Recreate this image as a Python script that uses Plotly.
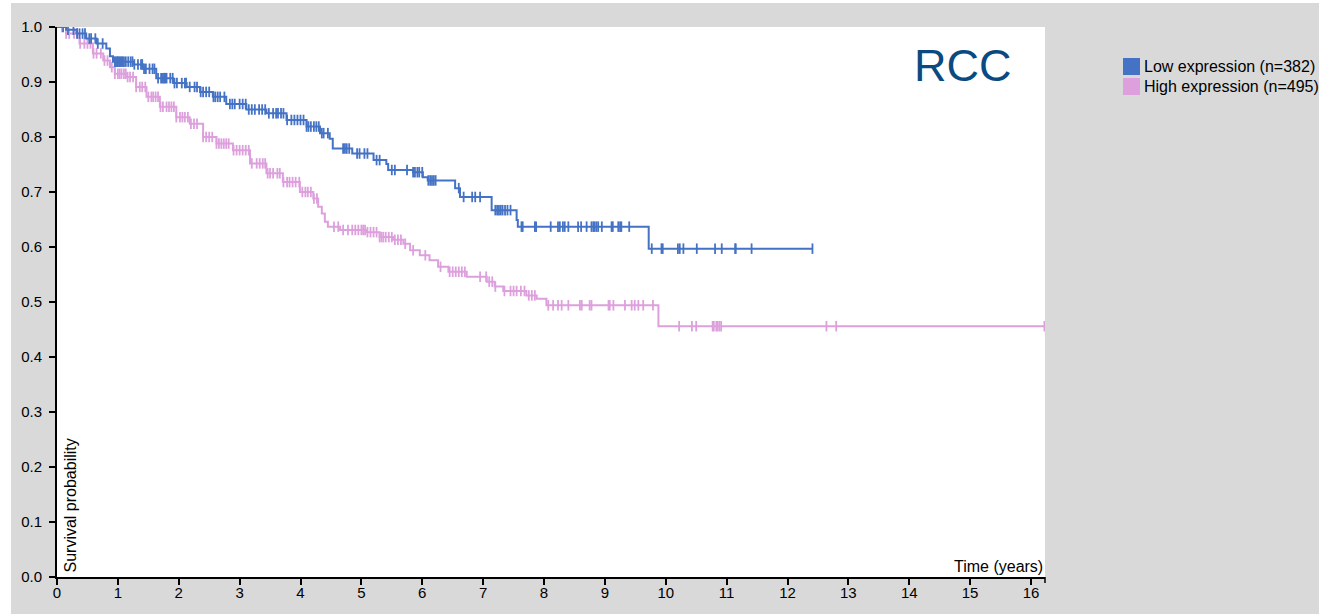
import numpy as np
import plotly.graph_objects as go

# ---------------- data ----------------
low_label = "Low expression (n=382)"
high_label = "High expression (n=495)"

low_step_t = [0, 0.15, 0.32, 0.48, 0.65, 0.81, 0.87, 0.92, 1.25, 1.41, 1.63, 1.91, 2.13, 2.35,
              2.56, 2.78, 3.11, 3.44, 3.77, 4.10, 4.32, 4.48, 4.53, 4.85, 5.20, 5.41, 5.44, 5.85,
              6.01, 6.09, 6.54, 6.62, 7.14, 7.55, 7.57, 9.72, 12.41]
low_step_s = [1.0, 0.995, 0.988, 0.979, 0.970, 0.961, 0.947, 0.937, 0.932, 0.924, 0.907, 0.898,
              0.891, 0.882, 0.873, 0.860, 0.850, 0.843, 0.831, 0.819, 0.807, 0.797, 0.779, 0.770,
              0.758, 0.751, 0.740, 0.736, 0.727, 0.721, 0.707, 0.691, 0.667, 0.649, 0.637, 0.597,
              0.597]

high_step_t = [0, 0.15, 0.37, 0.59, 0.76, 0.87, 0.95, 1.14, 1.30, 1.47, 1.69, 1.96, 2.18, 2.40,
               2.62, 2.89, 3.17, 3.44, 3.71, 3.99, 4.21, 4.29, 4.35, 4.40, 4.45, 4.65, 5.08, 5.30,
               5.52, 5.69, 5.80, 5.96, 6.12, 6.26, 6.43, 6.73, 7.06, 7.19, 7.33, 7.71, 7.88, 8.04,
               9.88, 16.22]
high_step_s = [1.0, 0.988, 0.970, 0.952, 0.939, 0.927, 0.915, 0.909, 0.891, 0.873, 0.855, 0.836,
               0.824, 0.800, 0.788, 0.776, 0.752, 0.734, 0.718, 0.700, 0.688, 0.673, 0.661, 0.646,
               0.637, 0.631, 0.627, 0.618, 0.613, 0.606, 0.594, 0.585, 0.576, 0.564, 0.555, 0.546,
               0.537, 0.528, 0.520, 0.512, 0.506, 0.494, 0.456, 0.456]

low_censor_t = [0.10, 0.18, 0.27, 0.33, 0.37, 0.42, 0.46, 0.53, 0.56, 0.63, 0.67, 0.75, 0.95, 0.97,
                0.99, 1.00, 1.02, 1.04, 1.06, 1.08, 1.10, 1.13, 1.17, 1.21, 1.24, 1.27, 1.33, 1.38,
                1.40, 1.43, 1.46, 1.52, 1.57, 1.60, 1.66, 1.71, 1.74, 1.76, 1.78, 1.80, 1.86, 1.90,
                1.93, 1.97, 2.05, 2.10, 2.12, 2.18, 2.26, 2.30, 2.36, 2.40, 2.45, 2.50, 2.57, 2.60,
                2.64, 2.68, 2.75, 2.84, 2.88, 2.92, 3.00, 3.05, 3.10, 3.15, 3.20, 3.25, 3.32, 3.37,
                3.42, 3.48, 3.55, 3.60, 3.63, 3.68, 3.72, 3.78, 3.85, 3.90, 3.95, 4.00, 4.05, 4.10,
                4.13, 4.17, 4.22, 4.26, 4.30, 4.35, 4.38, 4.45, 4.70, 4.73, 4.76, 4.80, 4.93, 4.97,
                5.05, 5.10, 5.25, 5.30, 5.50, 5.55, 5.75, 5.85, 5.88, 5.92, 5.95, 6.00, 6.10, 6.13,
                6.16, 6.19, 6.22, 6.60, 6.68, 6.82, 6.87, 6.95, 7.20, 7.23, 7.26, 7.29, 7.32, 7.36,
                7.40, 7.45, 7.63, 7.65, 7.85, 7.87, 8.11, 8.23, 8.26, 8.31, 8.34, 8.40, 8.56, 8.61,
                8.70, 8.78, 8.81, 8.83, 8.86, 8.89, 8.95, 9.11, 9.13, 9.22, 9.25, 9.27, 9.40, 9.77,
                9.93, 9.95, 10.20, 10.23, 10.29, 10.51, 10.81, 10.92, 11.14, 11.15, 11.41, 12.41]

high_censor_t = [0.08, 0.15, 0.20, 0.28, 0.33, 0.38, 0.45, 0.50, 0.55, 0.60, 0.65, 0.72, 0.78,
                 0.83, 0.90, 0.95, 1.00, 1.03, 1.06, 1.10, 1.13, 1.16, 1.20, 1.25, 1.30, 1.36,
                 1.40, 1.45, 1.50, 1.55, 1.58, 1.62, 1.66, 1.70, 1.74, 1.80, 1.84, 1.88, 1.92,
                 1.96, 2.02, 2.06, 2.10, 2.15, 2.20, 2.25, 2.30, 2.40, 2.45, 2.50, 2.55, 2.62,
                 2.66, 2.70, 2.74, 2.78, 2.82, 2.90, 2.95, 3.00, 3.05, 3.10, 3.15, 3.20, 3.28,
                 3.33, 3.38, 3.42, 3.46, 3.50, 3.55, 3.62, 3.66, 3.72, 3.78, 3.82, 3.87, 3.92,
                 3.98, 4.03, 4.08, 4.12, 4.17, 4.22, 4.27, 4.55, 4.62, 4.70, 4.78, 4.85, 4.90,
                 4.95, 5.00, 5.03, 5.06, 5.10, 5.15, 5.20, 5.25, 5.30, 5.33, 5.36, 5.40, 5.45,
                 5.50, 5.55, 5.60, 5.65, 5.72, 5.85, 6.05, 6.30, 6.45, 6.50, 6.55, 6.60, 6.65,
                 6.70, 6.95, 7.05, 7.10, 7.15, 7.20, 7.35, 7.45, 7.50, 7.55, 7.62, 7.68, 7.75,
                 7.80, 7.85, 8.07, 8.15, 8.23, 8.29, 8.40, 8.59, 8.62, 8.75, 8.78, 9.06, 9.08,
                 9.14, 9.33, 9.44, 9.49, 9.55, 9.63, 9.79, 10.22, 10.43, 10.50, 10.77, 10.79,
                 10.83, 10.85, 10.88, 10.91, 12.64, 12.80, 16.22]

y_ticks = [0.0, 0.1, 0.2, 0.3, 0.4, 0.5, 0.6, 0.7, 0.8, 0.9, 1.0]
x_ticks = list(range(0, 17))
title_text = "RCC"

# ---------------- styling / geometry ----------------
LOW_COLOR = "#4472c4"
HIGH_COLOR = "#dda0dd"
BG_GRAY = "#d9d9d9"
FONT = "Liberation Sans, Arial, Helvetica, sans-serif"

FIG_W, FIG_H = 1319, 614
ML, MR, MT, MB = 57, 274, 27, 37
PW = FIG_W - ML - MR
PH = FIG_H - MT - MB


def pxx(px):
    return (px - ML) / PW


def pxy(py):
    return (FIG_H - MB - py) / PH


def surv_at(step_t, step_s, times):
    idx = np.searchsorted(np.asarray(step_t), np.asarray(times), side="right") - 1
    idx = np.clip(idx, 0, len(step_s) - 1)
    return np.asarray(step_s)[idx]


fig = go.Figure()

for st, ss, ct, col in [(high_step_t, high_step_s, high_censor_t, HIGH_COLOR),
                        (low_step_t, low_step_s, low_censor_t, LOW_COLOR)]:
    fig.add_trace(go.Scatter(x=st, y=ss, mode="lines", line=dict(color=col, width=2, shape="hv"),
                             showlegend=False, hoverinfo="skip"))
    fig.add_trace(go.Scatter(x=ct, y=surv_at(st, ss, ct), mode="markers",
                             marker=dict(symbol="line-ns", size=7.5,
                                         line=dict(color=col, width=1.8)),
                             showlegend=False, hoverinfo="skip"))

shapes = [
    # white screenshot margins
    dict(type="rect", xref="paper", yref="paper", x0=pxx(-2), x1=pxx(11), y0=pxy(FIG_H + 2),
         y1=pxy(-2), fillcolor="white", line=dict(width=0), layer="below"),
    dict(type="rect", xref="paper", yref="paper", x0=pxx(-2), x1=pxx(FIG_W + 2), y0=pxy(3),
         y1=pxy(-2), fillcolor="white", line=dict(width=0), layer="below"),
    # outer tick at x-axis end
    dict(type="line", xref="paper", yref="paper", x0=1, x1=1, y0=0, y1=-6 / PH,
         line=dict(color="black", width=1.5)),
    # legend swatches
    dict(type="rect", xref="paper", yref="paper", x0=pxx(1123), x1=pxx(1140), y0=pxy(75),
         y1=pxy(58), fillcolor=LOW_COLOR, line=dict(width=0)),
    dict(type="rect", xref="paper", yref="paper", x0=pxx(1123), x1=pxx(1140), y0=pxy(95),
         y1=pxy(78), fillcolor=HIGH_COLOR, line=dict(width=0)),
]

annotations = [
    dict(text=title_text, xref="paper", yref="paper", x=pxx(963), y=pxy(65), xanchor="center",
         yanchor="middle", showarrow=False, font=dict(size=45, color="#0b4a80", family=FONT)),
    dict(text="Survival probability", xref="paper", yref="paper", x=0, y=0, xanchor="left",
         yanchor="bottom", xshift=2, yshift=2, textangle=-90, showarrow=False,
         font=dict(size=16, color="black", family=FONT)),
    dict(text="Time (years)", xref="paper", yref="paper", x=1, y=0, xanchor="right",
         yanchor="bottom", xshift=0, yshift=0, showarrow=False,
         font=dict(size=16, color="black", family=FONT)),
    dict(text=low_label, xref="paper", yref="paper", x=pxx(1142), y=pxy(66.5), xanchor="left",
         yanchor="middle", showarrow=False, font=dict(size=16, color="black", family=FONT)),
    dict(text=high_label, xref="paper", yref="paper", x=pxx(1142), y=pxy(86.5), xanchor="left",
         yanchor="middle", showarrow=False, font=dict(size=16, color="black", family=FONT)),
]

axis_common = dict(showgrid=False, zeroline=False, showline=True, linecolor="black", linewidth=2,
                   ticks="outside", ticklen=6, tickwidth=1.5, tickcolor="black", automargin=False,
                   tickfont=dict(size=15, color="black", family=FONT))

fig.update_layout(
    width=FIG_W, height=FIG_H,
    margin=dict(l=ML, r=MR, t=MT, b=MB, pad=0, autoexpand=False),
    paper_bgcolor=BG_GRAY, plot_bgcolor="white",
    showlegend=False,
    xaxis=dict(range=[0, 16.23], tickvals=x_ticks, ticktext=[str(v) for v in x_ticks],
               ticklabelstandoff=-5, **axis_common),
    yaxis=dict(range=[0, 1], tickvals=y_ticks, ticktext=[f"{v:.1f}" for v in y_ticks],
               ticklabelstandoff=4, **axis_common),
    shapes=shapes,
    annotations=annotations,
    font=dict(family=FONT),
)

fig.write_html("out.html", config={"displayModeBar": False},
               post_script="document.body.style.margin='0px';")
